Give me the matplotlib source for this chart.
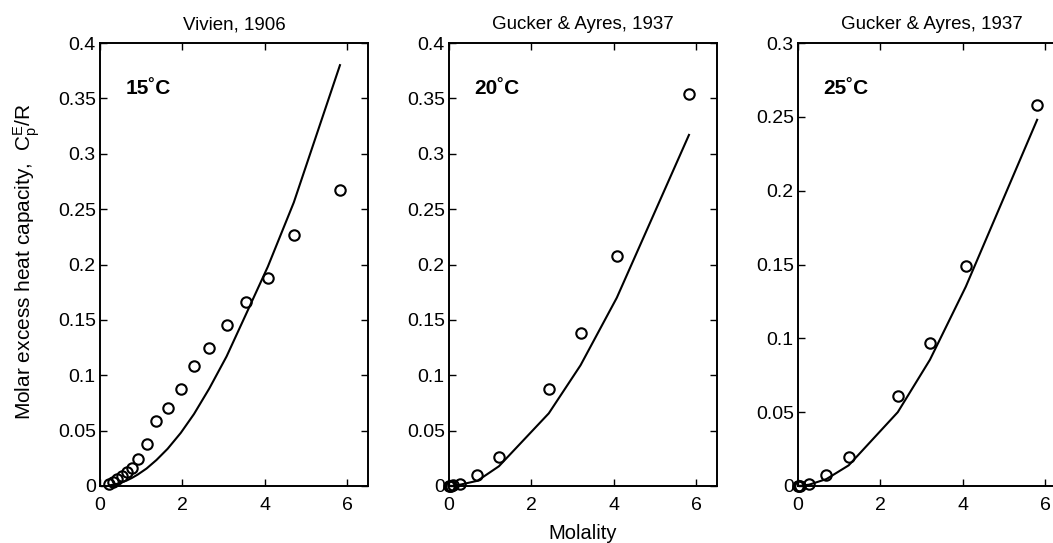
import matplotlib
matplotlib.use('Agg')
import matplotlib.pyplot as plt

plt.rcParams['font.family'] = ['Liberation Sans', 'DejaVu Sans']
plt.rcParams['mathtext.fontset'] = 'custom'
plt.rcParams['mathtext.rm'] = 'Liberation Sans'
plt.rcParams['mathtext.it'] = 'Liberation Sans:italic'

# 15 C, Vivien 1906
m15 = [0.23, 0.32, 0.42, 0.53, 0.65, 0.77, 0.91, 1.13, 1.37, 1.64, 1.96, 2.28, 2.65, 3.07, 3.54, 4.07, 4.70, 5.82]
cp15 = [0.0016, 0.004, 0.006, 0.009, 0.0125, 0.0166, 0.0247, 0.0375, 0.0588, 0.0703, 0.0872, 0.108, 0.125, 0.145, 0.166, 0.1875, 0.2266, 0.2675]
fit15 = [0.0006, 0.0012, 0.002, 0.0033, 0.005, 0.0072, 0.0102, 0.0158, 0.0235, 0.0336, 0.048, 0.065, 0.088, 0.117, 0.155, 0.198, 0.256, 0.380]

# 20 C, Gucker & Ayres 1937
m20 = [0.0, 0.02, 0.05, 0.1, 0.27, 0.69, 1.21, 2.42, 3.19, 4.07, 5.82]
cp20 = [0.0, 0.0, 0.0003, 0.0006, 0.0016, 0.0103, 0.0266, 0.0875, 0.138, 0.208, 0.354]
fit20 = [0.0, 0.0, 0.0001, 0.0002, 0.0012, 0.0047, 0.0178, 0.0656, 0.109, 0.170, 0.317]

# 25 C, Gucker & Ayres 1937
m25 = [0.0, 0.02, 0.05, 0.27, 0.69, 1.23, 2.42, 3.20, 4.07, 5.80]
cp25 = [0.0, 0.0, 0.0002, 0.0016, 0.0077, 0.0199, 0.0609, 0.0966, 0.149, 0.258]
fit25 = [0.0, 0.0, 0.0001, 0.0009, 0.0047, 0.014, 0.050, 0.0855, 0.135, 0.248]

titles = ['Vivien, 1906', 'Gucker & Ayres, 1937', 'Gucker & Ayres, 1937']
temps = ['15˚C', '20˚C', '25˚C']
ytops = [0.4, 0.4, 0.3]
lefts = [100, 449, 798]

fig = plt.figure(figsize=(10.53, 5.43), dpi=100)
W, H = 1053.0, 543.0

panels = [(m15, cp15, fit15), (m20, cp20, fit20), (m25, cp25, fit25)]
for i, (m, cp, fit) in enumerate(panels):
    ax = fig.add_axes([lefts[i] / W, 57 / H, 268 / W, 443 / H])
    ax.plot(m, fit, color='black', lw=1.5)
    ax.plot(m, cp, 'o', mfc='none', mec='black', ms=7.5, mew=1.5, clip_on=False)
    ax.set_xlim(0, 6.5)
    ax.set_ylim(0, ytops[i])
    ax.set_xticks([0, 2, 4, 6])
    ax.set_xticklabels(['0', '2', '4', '6'])
    yt = [k * 0.05 for k in range(int(round(ytops[i] / 0.05)) + 1)]
    ax.set_yticks(yt)
    ax.set_yticklabels(['%g' % round(v, 2) for v in yt])
    ax.tick_params(direction='in', top=True, right=True, length=5, width=1,
                   labelsize=14)
    ax.tick_params(axis='x', pad=8)
    ax.tick_params(axis='y', pad=3)
    for s in ax.spines.values():
        s.set_linewidth(1.4)
    ax.set_title(titles[i], fontsize=13.5, pad=10)
    ax.text(0.62, ytops[i] * 0.897, temps[i], fontsize=15, fontweight='bold',
            va='center', ha='left')
    if i == 0:
        ax.set_ylabel(r'Molar excess heat capacity,  $\mathregular{C_p^E/R}$', fontsize=15)
        ax.yaxis.set_label_coords(-0.215, 0.507)
    if i == 1:
        ax.set_xlabel('Molality', fontsize=14.5)
        ax.xaxis.set_label_coords(0.5, -0.086)

fig.savefig('out.png', dpi=100)
